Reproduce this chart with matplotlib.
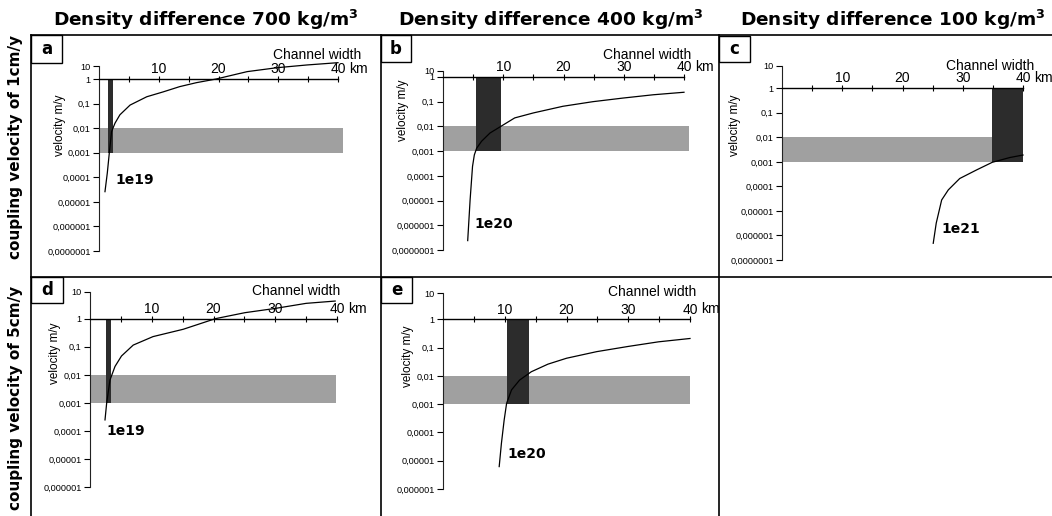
import numpy as np
import matplotlib
matplotlib.use('Agg')
import matplotlib.pyplot as plt
from matplotlib.lines import Line2D
from matplotlib.patches import Rectangle

W, H = 1052, 516

# --- data ---
titles = ['Density difference 700 kg/m$^{\\mathbf{3}}$',
          'Density difference 400 kg/m$^{\\mathbf{3}}$',
          'Density difference 100 kg/m$^{\\mathbf{3}}$']
row_labels = ['coupling velocity of 1cm/y', 'coupling velocity of 5cm/y']
panel_names = ['a', 'b', 'c', 'd', 'e']
viscosity = ['1e19', '1e20', '1e21', '1e19', '1e20']

a_width = [1.0, 1.39, 1.72, 2.1, 2.68, 3.5, 5.2, 8.0, 10.75, 13.5, 16.3, 19.6, 24.8, 29.8, 34.8, 40.0]
a_vel = [2.6e-5, 1.5e-4, 9.5e-4, 7.2e-3, 0.016, 0.035, 0.087, 0.19, 0.3, 0.49, 0.71, 1.0, 3.7, 7.4, 12, 18]

b_width = [4.1, 4.5, 4.9, 5.2, 5.58, 6.4, 7.8, 9.6, 11.9, 15.0, 19.9, 24.9, 29.9, 34.9, 40.0]
b_vel = [2.4e-7, 1.07e-5, 2.4e-4, 7e-4, 1.3e-3, 2.5e-3, 5.4e-3, 0.01, 0.022, 0.035, 0.065, 0.1, 0.14, 0.19, 0.24]

c_width = [25.1, 25.6, 26.5, 27.6, 29.5, 32.3, 34.9, 37.8, 40.0]
c_vel = [4.8e-7, 3.2e-6, 2.8e-5, 7.2e-5, 2.1e-4, 4.7e-4, 9.6e-4, 1.5e-3, 1.9e-3]

d_width = [2.43, 2.7, 3.24, 4.05, 5.1, 7.0, 10.2, 15.1, 20.3, 25.1, 30.0, 35.0, 39.7]
d_vel = [2.5e-4, 1e-3, 6.6e-3, 0.02, 0.047, 0.115, 0.23, 0.42, 1.0, 1.67, 2.4, 3.7, 4.5]

e_width = [9.1, 9.46, 9.9, 10.3, 11.1, 12.4, 14.3, 17.0, 20.0, 24.9, 30.0, 34.9, 40.0]
e_vel = [6.2e-6, 4.1e-5, 2.7e-4, 1.07e-3, 3.2e-3, 7.1e-3, 0.014, 0.026, 0.042, 0.072, 0.11, 0.16, 0.21]

# dark bar: channel width range, from 1 m/y down to 0.001 m/y
bar_a = (1.5, 2.3)
bar_b = (5.4, 9.6)
bar_c = (34.9, 40.0)
bar_d = (2.6, 3.35)
bar_e = (10.4, 13.9)
bar_top, bar_bottom = 1.0, 0.001

# gray band: plate velocity range 0.001 - 0.01 m/y
band_low, band_high = 0.001, 0.01
band_end = [40.8, 40.8, 40.0, 39.9, 40.0]

# label positions (channel width km, velocity) for the viscosity text
visc_pos = [(2.7, 10**-4.1), (5.3, 10**-5.95), (26.4, 10**-5.74), (2.6, 1e-4), (10.4, 10**-4.76)]

y_ticks_7 = [10, 1, 0.1, 0.01, 0.001, 0.0001, 0.00001, 0.000001, 0.0000001]
y_labels_7 = ['10', '1', '0,1', '0,01', '0,001', '0,0001', '0,00001', '0,000001', '0,0000001']

widths = [a_width, b_width, c_width, d_width, e_width]
vels = [a_vel, b_vel, c_vel, d_vel, e_vel]
bars = [bar_a, bar_b, bar_c, bar_d, bar_e]

# --- layout in pixels: x of 0 km, x of 40 km, y of top tick, y of bottom tick, squeeze above 1 ---
layout = [
    (99, 338, 66, 251, 0.53, 7),
    (443, 684, 71, 250, 0.24, 7),
    (782, 1023, 65.7, 260, 0.92, 7),
    (90, 337, 291.7, 487.3, 0.96, 6),
    (443, 690, 293.3, 489, 0.92, 6),
]
cw_offset = [(-21, 24), (-37, 22), (-33, 22), (-41, 28), (-38, 27)]
vlabel_pos = [(60, 125), (403, 110), (735, 125), (55, 353), (408, 356)]
box_pos = [(31, 35, 62, 63), (381, 35, 411, 62), (719, 36, 750, 62), (31, 277, 63, 303), (381, 277, 412, 303)]

plt.rcParams['font.family'] = ['Liberation Sans', 'DejaVu Sans']
fig = plt.figure(figsize=(W / 100, H / 100), dpi=100)

def px(x, y):
    return x / W, 1 - y / H

def make_scale(f):
    # log axis, with the decade above 1 squeezed as in the original chart
    def fwd(v):
        l = np.log10(np.clip(np.asarray(v, dtype=float), 1e-30, None))
        return np.where(l > 0, l * f, l)
    def inv(t):
        t = np.asarray(t, dtype=float)
        return np.where(t > 0, 10 ** (t / f), 10 ** t)
    return fwd, inv

for i in range(5):
    x0, x1, ytop, ybot, f, ndec = layout[i]
    left, top = px(x0, ytop)
    right, bottom = px(x1, ybot)
    ax = fig.add_axes([left, bottom, right - left, top - bottom])
    ax.patch.set_visible(False)
    ax.set_yscale('function', functions=make_scale(f))
    ax.set_xlim(0, 40)
    ax.set_ylim(10 ** -ndec, 10)

    ax.fill_between([0, band_end[i]], band_low, band_high, color='#a0a0a0', lw=0, clip_on=False, zorder=1)
    ax.fill_between(list(bars[i]), bar_bottom, bar_top, color='#2c2c2c', lw=0, clip_on=False, zorder=2)
    ax.plot(widths[i], vels[i], color='black', lw=0.9, clip_on=False, zorder=3)

    for s in ['right', 'bottom']:
        ax.spines[s].set_visible(False)
    ax.spines['top'].set_position(('data', 1))
    ax.spines['top'].set_linewidth(1.0)
    ax.spines['left'].set_linewidth(0.8)
    ax.spines['left'].set_color('#222222')

    ax.xaxis.tick_top()
    ax.set_xticks([10, 20, 30, 40], ['10', '20', '30', '40'])
    ax.tick_params(axis='x', which='both', direction='inout', length=5, width=0.8, pad=-0.5, labelsize=10)

    n = ndec + 2
    ax.set_yticks(y_ticks_7[:n], y_labels_7[:n])
    ax.tick_params(axis='y', direction='out', length=4, width=0.8, pad=2, labelsize=6.6)
    ax.minorticks_off()
    ax.set_xticks([5, 15, 25, 35], minor=True)

    ax.annotate('km', xy=(40, 1), xytext=(11, 3), textcoords='offset pixels',
                ha='left', va='bottom', fontsize=10)
    dx, dy = cw_offset[i]
    ax.annotate('Channel width', xy=(40, 1), xytext=(dx, dy), textcoords='offset pixels',
                ha='center', va='center', fontsize=10)
    ax.text(visc_pos[i][0], visc_pos[i][1], viscosity[i], ha='left', va='center',
            fontsize=10, fontweight='bold', family='DejaVu Sans')

    vx, vy = vlabel_pos[i]
    fig.text(*px(vx, vy), 'velocity m/y', rotation=90, ha='center', va='center', fontsize=8.5)

    bx0, by0, bx1, by1 = box_pos[i]
    fig.add_artist(Rectangle(px(bx0, by1), (bx1 - bx0) / W, (by1 - by0) / H,
                             fill=False, ec='black', lw=1.0))
    fig.text(*px((bx0 + bx1) / 2, (by0 + by1) / 2), panel_names[i], ha='center', va='center',
             fontsize=12, fontweight='bold', family='DejaVu Sans')

# panel grid lines
for y in [35, 277]:
    fig.add_artist(Line2D([31 / W, 1], [1 - y / H] * 2, color='black', lw=1.2))
for x in [31, 381, 719]:
    fig.add_artist(Line2D([x / W] * 2, [1 - 35 / H, 0], color='black', lw=1.2))

# column titles and row labels
for x, t in zip([206, 551, 893], titles):
    fig.text(*px(x, 20), t, ha='center', va='center', fontsize=13.3, fontweight='bold',
             family='DejaVu Sans')
for y, t in zip([147, 398], row_labels):
    fig.text(*px(16, y), t, rotation=90, ha='center', va='center', fontsize=11.0,
             fontweight='bold', family='DejaVu Sans')

fig.savefig('out.png', dpi=100)
